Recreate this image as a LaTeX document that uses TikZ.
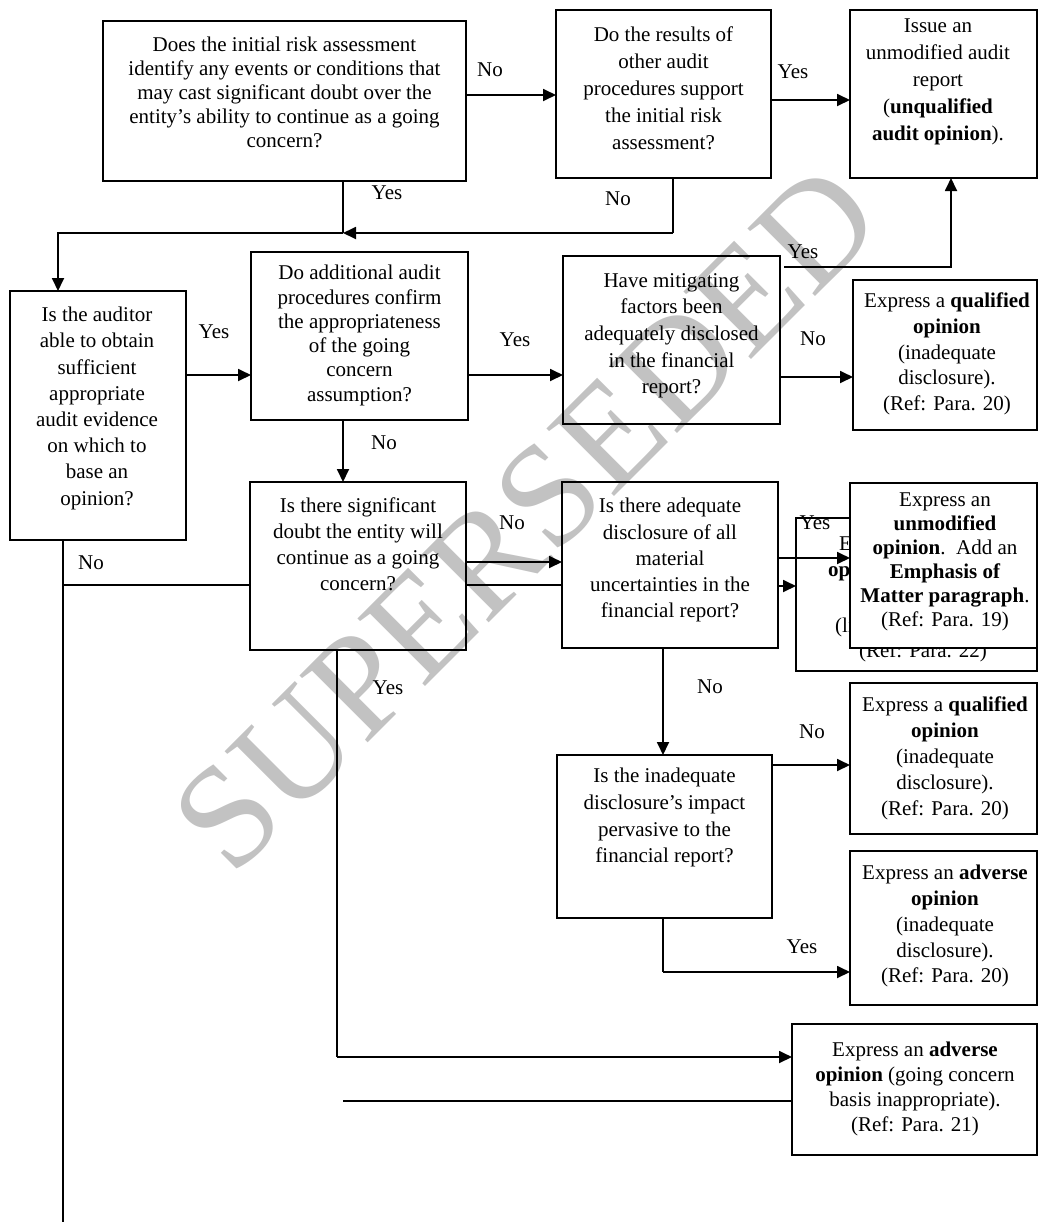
\documentclass[tikz,border=0pt]{standalone}
\usepackage{fontspec}
\setmainfont{Liberation Serif}
\usetikzlibrary{arrows.meta}
\begin{document}
\begin{tikzpicture}[x=1pt,y=-1pt,
  box/.style={draw, line width=1.5pt, inner sep=0pt, outer sep=0pt},
  wbox/.style={box, fill=white},
  txt/.style={inner sep=0pt, anchor=north, align=center, font=\fontsize{21}{#1}\selectfont},
  txt/.default=26,
  lab/.style={inner sep=0pt, font=\fontsize{21}{24}\selectfont},
  frag/.style={inner sep=0pt, anchor=base west, font=\fontsize{21}{24}\selectfont},
  wm/.style={inner sep=0pt, text=black!24, font=\fontsize{146}{146}\selectfont, rotate=45},
  arr/.style={line width=1.8pt, -{Triangle[length=13pt,width=12pt]}},
  ln/.style={line width=1.8pt},
  thinln/.style={line width=1.2pt}]
\useasboundingbox (0,0) rectangle (1039,1229);
% watermark
\node[wm] (wm) at (526,518) {SUPERSEDED};
% boxes
\node[box, minimum width=363pt, minimum height=160pt] (A) at (284.5,101) {};
\node[box, minimum width=215pt, minimum height=168pt] (B) at (663.5,94) {};
\node[box, minimum width=187pt, minimum height=168pt] (C) at (943.5,94) {};
\node[box, minimum width=176pt, minimum height=249pt] (D) at (98,415.5) {};
\node[box, minimum width=217pt, minimum height=168pt] (E) at (359.5,336) {};
\node[box, minimum width=217pt, minimum height=168pt] (F) at (671.5,340) {};
\node[box, minimum width=184pt, minimum height=150pt] (G) at (945,355) {};
\node[box, minimum width=216pt, minimum height=168pt] (H) at (358,566) {};
\node[box, minimum width=216pt, minimum height=166pt] (I) at (670,565) {};
\node[box, minimum width=241pt, minimum height=153pt] (Q) at (916.5,594.5) {};
\node[frag] (q1) at (839,550) {E};
\node[frag] (q2) at (828,576) {\textbf{op}};
\node[frag] (q3) at (835,632) {(li};
\node[lab, anchor=base] (q4) at (923,657) {(Ref: Para. 22)};
\node[wbox, minimum width=187pt, minimum height=165pt] (J) at (943.5,565.5) {};
\node[box, minimum width=215pt, minimum height=163pt] (K) at (664.5,836.5) {};
\node[box, minimum width=187pt, minimum height=151pt] (L) at (943.5,758.5) {};
\node[box, minimum width=187pt, minimum height=154pt] (M) at (943.5,928) {};
\node[box, minimum width=245pt, minimum height=131pt] (N) at (914.5,1089.5) {};
% texts
\node[txt=24] (tA) at (284.5,37) {Does the initial risk assessment\\identify any events or conditions that\\may cast significant doubt over the\\entity’s ability to continue as a going\\concern?};
\node[txt=27] (tB) at (663.5,27) {Do the results of\\other audit\\procedures support\\the initial risk\\assessment?};
\node[txt=27] (tC) at (938,19) {Issue an\\unmodified audit\\report\\(\textbf{unqualified}\\\textbf{audit opinion}).};
\node[txt=26.2] (tD) at (97,307) {Is the auditor\\able to obtain\\sufficient\\appropriate\\audit evidence\\on which to\\base an\\opinion?};
\node[txt=24.3] (tE) at (359.5,265) {Do additional audit\\procedures confirm\\the appropriateness\\of the going\\concern\\assumption?};
\node[txt=26.7] (tF) at (671.5,273) {Have mitigating\\factors been\\adequately disclosed\\in the financial\\report?};
\node[txt=25.6] (tG) at (947,293) {Express a \textbf{qualified}\\\textbf{opinion}\\(inadequate\\disclosure).\\(Ref: Para. 20)};
\node[txt=25.7] (tH) at (358,498) {Is there significant\\doubt the entity will\\continue as a going\\concern?};
\node[txt=26.3] (tI) at (670,498) {Is there adequate\\disclosure of all\\material\\uncertainties in the\\financial report?};
\node[txt=24] (tJ) at (945,493) {Express an\\\textbf{unmodified}\\\textbf{opinion}.\ \ Add an\\\textbf{Emphasis of}\\\textbf{Matter paragraph}.\\(Ref: Para. 19)};
\node[txt=26.7] (tK) at (664.5,768) {Is the inadequate\\disclosure’s impact\\pervasive to the\\financial report?};
\node[txt=26] (tL) at (945,697) {Express a \textbf{qualified}\\\textbf{opinion}\\(inadequate\\disclosure).\\(Ref: Para. 20)};
\node[txt=25.8] (tM) at (945,865) {Express an \textbf{adverse}\\\textbf{opinion}\\(inadequate\\disclosure).\\(Ref: Para. 20)};
\node[txt=25] (tN) at (915,1042) {Express an \textbf{adverse}\\\textbf{opinion} (going concern\\basis inappropriate).\\(Ref: Para. 21)};
% labels
\node[lab] (l1) at (490,70) {No};
\node[lab] (l2) at (793,72) {Yes};
\node[lab] (l3) at (387,193) {Yes};
\node[lab] (l4) at (618,199) {No};
\node[lab] (l5) at (214,332) {Yes};
\node[lab] (l6) at (515,340) {Yes};
\node[lab] (l7) at (813,339) {No};
\node[lab] (l8) at (803,252) {Yes};
\node[lab] (l9) at (384,443) {No};
\node[lab] (l10) at (512,523) {No};
\node[lab] (l11) at (91,563) {No};
\node[lab] (l12) at (388,688) {Yes};
\node[lab] (l13) at (815,523) {Yes};
\node[lab] (l14) at (710,687) {No};
\node[lab] (l15) at (812,732) {No};
\node[lab] (l16) at (802,947) {Yes};
% coordinates
\coordinate (j1) at (343,233);
\coordinate (j2) at (673,233);
\coordinate (j3) at (58,233);
\coordinate (fy) at (951,267);
\coordinate (km) at (663,972);
\coordinate (hn) at (337,1057);
\coordinate (s1) at (343,1101);
\coordinate (dn) at (63,585);
\coordinate (dend) at (63,1222);
% connectors
\draw[arr] (A.east |- 0,95) -- (B.west |- 0,95);
\draw[arr] (B.east |- 0,100) -- (C.west |- 0,100);
\draw[thinln] (343,0 |- A.south) -- (j1);
\draw[thinln] (673,0 |- B.south) -- (j2);
\draw[arr] (j2) -- (j1);
\draw[arr] (j1) -- (j3) -- (58,0 |- D.north);
\draw[arr] ([xshift=4pt]F.east |- 0,267) -- (fy) -- (951,0 |- C.south);
\draw[arr] (D.east |- 0,375) -- (E.west |- 0,375);
\draw[arr] (E.east |- 0,375) -- (F.west |- 0,375);
\draw[arr] (F.east |- 0,377) -- (G.west |- 0,377);
\draw[arr] (343,0 |- E.south) -- (343,0 |- H.north);
\draw[ln] (63,0 |- D.south) -- (dend);
\draw[ln] (dn) -- (H.west |- dn);
\draw[arr] (H.east |- 0,562) -- (I.west |- 0,562);
\draw[ln] (H.east |- dn) -- (I.west |- dn);
\draw[arr] (I.east |- 0,586) -- (Q.west |- 0,586);
\draw[arr] (I.east |- 0,558) -- (J.west |- 0,558);
\draw[arr] (663,0 |- I.south) -- (663,0 |- K.north);
\draw[arr] (K.east |- 0,765) -- (L.west |- 0,765);
\draw[thinln] (663,0 |- K.south) -- (km);
\draw[arr] (km) -- (M.west |- km);
\draw[thinln] (337,0 |- H.south) -- (hn);
\draw[arr] (hn) -- (N.west |- hn);
\draw[ln] (s1) -- (N.west |- s1);
\end{tikzpicture}
\end{document}
